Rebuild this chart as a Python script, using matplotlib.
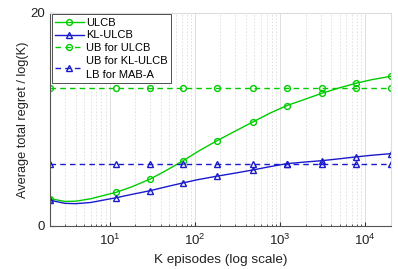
import matplotlib
matplotlib.use("Agg")
import matplotlib.pyplot as plt
from matplotlib.ticker import LogLocator, NullFormatter

plt.rcParams['font.family'] = ['Liberation Sans', 'DejaVu Sans']

# Data
episodes = [2, 3, 4, 6, 12, 18, 30, 45, 72, 110, 180, 300, 480, 750, 1200,
            2000, 3100, 5000, 7700, 12000, 20000]
ulcb = [2.56, 2.30, 2.32, 2.55, 3.16, 3.65, 4.40, 5.15, 6.09, 7.00, 7.97,
        8.90, 9.75, 10.55, 11.28, 11.90, 12.44, 12.95, 13.37, 13.72, 14.03]
kl_ulcb = [2.41, 2.12, 2.09, 2.20, 2.65, 2.95, 3.31, 3.65, 4.03, 4.35, 4.66,
           4.96, 5.25, 5.55, 5.84, 6.00, 6.12, 6.30, 6.47, 6.63, 6.78]
marker_idx = [0, 4, 6, 8, 10, 12, 14, 16, 18, 20]
ub_ulcb = 12.94
ub_kl_ulcb = 5.84

labels = ["ULCB", "KL-ULCB", "UB for ULCB", "UB for KL-ULCB\nLB for MAB-A"]

green = '#00cc00'
blue = '#1a1acc'

fig = plt.figure(figsize=(3.98, 2.69), dpi=100)
ax = fig.add_axes([0.1256, 0.16, 0.8564, 0.793])

mk_x = [episodes[i] for i in marker_idx]

ax.plot(episodes, ulcb, '-', color=green, lw=1.0, marker='o', ms=4.2,
        mfc='none', mew=1.0, markevery=marker_idx, label=labels[0])
ax.plot(episodes, kl_ulcb, '-', color=blue, lw=1.0, marker='^', ms=4.8,
        mfc='none', mew=1.0, markevery=marker_idx, label=labels[1])
ax.plot(mk_x, [ub_ulcb] * len(mk_x), '--', color=green, lw=1.0, marker='o',
        ms=4.2, mfc='none', mew=1.0, dashes=(4, 3), label=labels[2])
ax.plot(mk_x, [ub_kl_ulcb] * len(mk_x), '--', color=blue, lw=1.0, marker='^',
        ms=4.8, mfc='none', mew=1.0, dashes=(4, 3), label=labels[3])

ax.set_xscale('log')
ax.set_xlim(2, 20000)
ax.set_ylim(0, 20)
ax.set_yticks([0, 20])
ax.xaxis.set_major_locator(LogLocator(base=10, numticks=10))
ax.xaxis.set_minor_locator(LogLocator(base=10, subs=range(2, 10), numticks=20))
ax.xaxis.set_minor_formatter(NullFormatter())

ax.grid(True, which='major', axis='x', color='#d9d9d9', lw=0.6, ls='-')
ax.grid(True, which='minor', axis='x', color='#dddddd', lw=0.6, ls=(0, (2, 2)))
ax.set_axisbelow(True)

for s in ['left', 'bottom']:
    ax.spines[s].set_color('#555555')
    ax.spines[s].set_linewidth(0.8)
for s in ['top', 'right']:
    ax.spines[s].set_color('#dddddd')
    ax.spines[s].set_linewidth(0.8)

ax.tick_params(axis='both', which='both', direction='in', colors='#333333',
               labelsize=9.5, labelcolor='#222222')
ax.tick_params(axis='both', which='major', length=3)
ax.tick_params(axis='x', which='major', pad=5)
ax.tick_params(axis='x', which='minor', length=1.5)
ax.tick_params(top=False, right=False)

ax.set_xlabel("K episodes (log scale)", fontsize=9.7, color='#222222', labelpad=4)
ax.set_ylabel("Average total regret / log(K)", fontsize=9.2, color='#222222', labelpad=1)

leg = ax.legend(loc='upper left', fontsize=8, numpoints=1, handlelength=2.6,
                handletextpad=0.2, borderpad=0.3, labelspacing=0.25,
                borderaxespad=0.15, fancybox=False, framealpha=1.0)
leg.get_texts()[3].set_linespacing(1.45)
leg.get_frame().set_edgecolor('#333333')
leg.get_frame().set_linewidth(0.6)

fig.savefig("out.png", dpi=100)
